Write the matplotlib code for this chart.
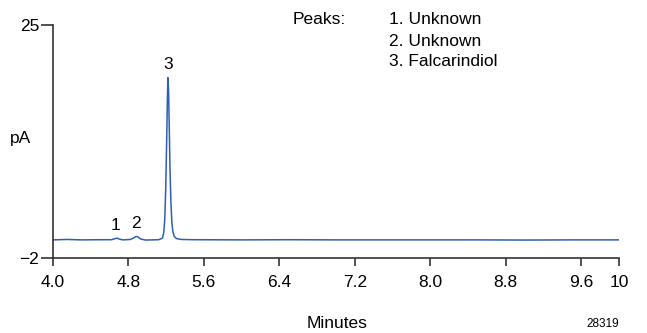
import matplotlib.pyplot as plt

plt.rcParams['font.family'] = ['Liberation Sans', 'DejaVu Sans']

# chromatogram trace (minutes, pA)
times = [4.0, 4.15, 4.3, 4.5, 4.62, 4.66, 4.68, 4.70, 4.74, 4.82, 4.86, 4.88,
         4.90, 4.93, 4.98, 5.05, 5.12, 5.16, 5.175, 5.185, 5.195, 5.205,
         5.212, 5.218, 5.225, 5.232, 5.24, 5.25, 5.26, 5.27, 5.285, 5.31,
         5.36, 5.5, 6.0, 6.5, 7.0, 7.5, 8.0, 8.5, 9.0, 9.5, 10.0]
signal = [0.1, 0.15, 0.1, 0.12, 0.12, 0.25, 0.3, 0.2, 0.1, 0.15, 0.35, 0.5,
          0.45, 0.2, 0.08, 0.1, 0.12, 0.3, 1.0, 2.5, 6.0, 11.5,
          16.0, 18.9, 17.5, 13.5, 8.5, 4.5, 2.2, 1.1, 0.5, 0.25,
          0.15, 0.12, 0.1, 0.12, 0.1, 0.1, 0.1, 0.1, 0.08, 0.1, 0.1]

peak_labels = ['1', '2', '3']
peak_times = [4.665, 4.88, 5.218]
peak_heights = [0.3, 0.5, 18.9]
peak_names = ['1. Unknown', '2. Unknown', '3. Falcarindiol']

x_ticks = [4.0, 4.8, 5.6, 6.4, 7.2, 8.0, 8.8, 9.6, 10]
x_tick_labels = ['4.0', '4.8', '5.6', '6.4', '7.2', '8.0', '8.8', '9.6', '10']
y_ticks = [-2, 25]

fs = 12.5

fig = plt.figure(figsize=(6.47, 3.33), dpi=100)
ax = fig.add_axes([0.0819, 0.2252, 0.8748, 0.6997])

ax.plot(times, signal, color='#2f5fb3', lw=1.1)

for lab, t, h in zip(peak_labels, peak_times, peak_heights):
    ax.annotate(lab, (t, h), xytext=(0, 4), textcoords='offset points',
                ha='center', va='bottom', fontsize=fs)

ax.set_xlim(4.0, 10)
ax.set_ylim(-2, 25)
ax.set_xticks(x_ticks)
ax.set_xticklabels(x_tick_labels)
ax.set_yticks(y_ticks)

for side in ['top', 'right']:
    ax.spines[side].set_visible(False)
for side in ['left', 'bottom']:
    ax.spines[side].set_color('#333333')
    ax.spines[side].set_linewidth(1.2)

ax.tick_params(axis='x', direction='out', length=6, width=1.2,
               color='#333333', labelsize=fs, pad=6)
ax.tick_params(axis='y', direction='out', length=9, width=1.2,
               color='#333333', labelsize=fs, pad=1)

fig.text(10 / 647, 1 - 138 / 333, 'pA', fontsize=fs, va='center', ha='left')
fig.text(337 / 647, 1 - 324 / 333, 'Minutes', fontsize=fs, ha='center', va='center')
fig.text(619 / 647, 1 - 324 / 333, '28319', fontsize=8.5, ha='right', va='center')

fig.text(293 / 647, 1 - 20 / 333, 'Peaks:', fontsize=fs, va='center')
for i, name in enumerate(peak_names):
    fig.text(389 / 647, 1 - (20 + 21 * i) / 333, name, fontsize=fs, va='center')

fig.savefig('out.png', dpi=100)
